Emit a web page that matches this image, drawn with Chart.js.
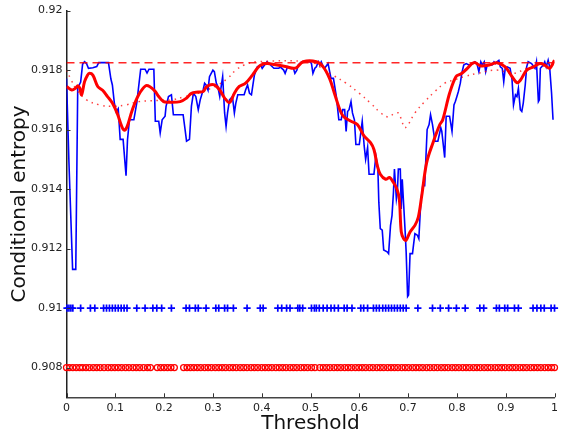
<!DOCTYPE html>
<html lang="en">
<head>
<meta charset="UTF-8">
<title>Conditional entropy vs threshold</title>
<script src="https://cdn.jsdelivr.net/npm/chart.js@4.4.1/dist/chart.umd.min.js"></script>
<style>
  html, body { margin: 0; padding: 0; background: #fff; }
  #wrap { width: 562px; height: 441px; }
</style>
</head>
<body>
<div id="wrap"><canvas id="chart" width="562" height="441"></canvas></div>
<script>
// raw conditional entropy per threshold (blue)
var rawLine = [
  [0.000,0.91772],[0.002,0.9166],[0.005,0.9149],[0.0125,0.9113],[0.019,0.9113],[0.023,0.9174],[0.029,0.9176],[0.033,0.9182],
  [0.037,0.91828],[0.041,0.91822],[0.045,0.91806],[0.054,0.91808],[0.062,0.91812],[0.066,0.91825],[0.086,0.91825],[0.091,0.9177],
  [0.094,0.9175],[0.098,0.9169],[0.102,0.9166],[0.106,0.9167],[0.110,0.91567],[0.116,0.91567],[0.122,0.91445],[0.125,0.91566],
  [0.129,0.91633],[0.138,0.91633],[0.144,0.9169],[0.152,0.91803],[0.161,0.91803],[0.165,0.9179],[0.169,0.91803],[0.179,0.91803],
  [0.182,0.91628],[0.189,0.91628],[0.192,0.91589],[0.196,0.91633],[0.202,0.91645],[0.204,0.91678],[0.209,0.91711],[0.215,0.91717],
  [0.219,0.9165],[0.239,0.9165],[0.243,0.916],[0.246,0.91561],[0.252,0.91567],[0.256,0.91679],[0.260,0.91722],[0.265,0.91711],
  [0.270,0.91667],[0.274,0.917],[0.280,0.91733],[0.283,0.91756],[0.286,0.9175],[0.290,0.91733],[0.293,0.91778],[0.300,0.918],
  [0.303,0.91795],[0.307,0.91756],[0.310,0.91745],[0.314,0.91711],[0.317,0.91745],[0.320,0.91778],[0.324,0.91656],[0.327,0.91611],
  [0.330,0.91656],[0.334,0.917],[0.340,0.91711],[0.344,0.91656],[0.347,0.91689],[0.351,0.91717],[0.364,0.91717],[0.367,0.91733],
  [0.371,0.9175],[0.375,0.91722],[0.379,0.91717],[0.382,0.9175],[0.385,0.91783],[0.391,0.91811],[0.398,0.91817],[0.401,0.91806],
  [0.408,0.91822],[0.411,0.91828],[0.418,0.91817],[0.425,0.91806],[0.435,0.91806],[0.438,0.91811],[0.445,0.918],[0.448,0.91789],
  [0.453,0.91811],[0.458,0.91806],[0.465,0.91806],[0.468,0.91789],[0.472,0.918],[0.475,0.91817],[0.482,0.91828],[0.499,0.91828],
  [0.502,0.91822],[0.505,0.91789],[0.509,0.91806],[0.512,0.91811],[0.516,0.91828],[0.519,0.91817],[0.522,0.91828],[0.526,0.91811],
  [0.529,0.91806],[0.536,0.91822],[0.542,0.91772],[0.547,0.91772],[0.553,0.91711],[0.558,0.91633],[0.563,0.91633],[0.566,0.91667],
  [0.570,0.91667],[0.573,0.91594],[0.576,0.91661],[0.579,0.91667],[0.583,0.91694],[0.586,0.91656],[0.590,0.91633],[0.593,0.9155],
  [0.600,0.9155],[0.603,0.91589],[0.606,0.91628],[0.610,0.91545],[0.613,0.915],[0.617,0.9154],[0.620,0.9145],[0.630,0.9145],
  [0.634,0.91511],[0.638,0.91472],[0.640,0.91356],[0.643,0.91267],[0.647,0.91262],[0.650,0.91195],[0.657,0.91189],[0.660,0.91183],
  [0.664,0.91278],[0.667,0.91311],[0.670,0.91389],[0.672,0.91467],[0.676,0.91367],[0.678,0.91389],[0.680,0.91467],[0.684,0.91467],
  [0.686,0.91333],[0.688,0.91433],[0.691,0.91345],[0.694,0.91256],[0.696,0.91189],[0.699,0.91039],[0.701,0.91044],[0.704,0.91183],
  [0.709,0.91183],[0.711,0.91211],[0.714,0.9125],[0.719,0.91245],[0.722,0.91233],[0.726,0.91356],[0.730,0.91411],[0.734,0.91411],
  [0.739,0.916],[0.743,0.91617],[0.746,0.9165],[0.750,0.91617],[0.755,0.91561],[0.761,0.91561],[0.767,0.91606],[0.769,0.91595],
  [0.775,0.91506],[0.778,0.91645],[0.785,0.91645],[0.790,0.91594],[0.794,0.91683],[0.797,0.91695],[0.800,0.91711],[0.803,0.91728],
  [0.807,0.91756],[0.810,0.91789],[0.814,0.91817],[0.819,0.91822],[0.825,0.91817],[0.833,0.91822],[0.837,0.91828],[0.841,0.91822],
  [0.845,0.91795],[0.849,0.91828],[0.852,0.91817],[0.856,0.91828],[0.859,0.91795],[0.862,0.91817],[0.872,0.91817],[0.876,0.91828],
  [0.879,0.91822],[0.882,0.91828],[0.886,0.91833],[0.889,0.91811],[0.893,0.91806],[0.896,0.91761],[0.899,0.91806],[0.903,0.91811],
  [0.909,0.91806],[0.913,0.91767],[0.916,0.91683],[0.920,0.91717],[0.923,0.91711],[0.926,0.91739],[0.930,0.91667],[0.933,0.91661],
  [0.936,0.91689],[0.940,0.9175],[0.943,0.91811],[0.946,0.91828],[0.953,0.91822],[0.960,0.91806],[0.963,0.91828],[0.967,0.91694],
  [0.969,0.917],[0.971,0.91806],[0.977,0.91817],[0.980,0.91828],[0.983,0.91811],[0.987,0.91833],[0.990,0.91811],[0.994,0.91722],
  [0.997,0.91633]
];

// smoothed curve (thick red)
var smoothLine = [
  [0.000,0.91745],[0.011,0.91733],[0.019,0.9174],[0.023,0.91747],[0.027,0.9174],[0.031,0.91717],[0.037,0.91761],[0.043,0.91783],
  [0.047,0.91789],[0.054,0.91783],[0.064,0.91745],[0.074,0.91732],[0.084,0.91711],[0.094,0.91689],[0.105,0.9165],[0.112,0.91616],
  [0.118,0.91598],[0.124,0.91609],[0.135,0.91667],[0.148,0.91717],[0.162,0.91747],[0.171,0.91744],[0.182,0.91728],[0.189,0.91711],
  [0.199,0.91694],[0.209,0.91692],[0.233,0.91694],[0.246,0.91706],[0.256,0.91722],[0.270,0.91726],[0.280,0.91728],[0.286,0.91742],
  [0.293,0.9175],[0.303,0.9175],[0.314,0.91733],[0.324,0.91706],[0.334,0.91691],[0.344,0.91722],[0.354,0.91745],[0.367,0.91756],
  [0.381,0.91783],[0.391,0.91806],[0.398,0.91817],[0.411,0.91822],[0.431,0.91817],[0.451,0.91811],[0.465,0.91806],[0.472,0.91809],
  [0.485,0.91828],[0.512,0.91828],[0.526,0.91811],[0.539,0.91772],[0.549,0.91722],[0.559,0.91672],[0.567,0.91645],[0.583,0.91628],
  [0.596,0.91617],[0.610,0.91578],[0.623,0.91556],[0.630,0.91533],[0.637,0.91478],[0.643,0.9145],[0.654,0.91433],[0.662,0.91439],
  [0.670,0.91422],[0.677,0.914],[0.682,0.91367],[0.686,0.91256],[0.691,0.91233],[0.696,0.91228],[0.704,0.91256],[0.714,0.91278],
  [0.721,0.91306],[0.728,0.91378],[0.738,0.91489],[0.751,0.91556],[0.765,0.91617],[0.771,0.91633],[0.785,0.91722],[0.798,0.91778],
  [0.808,0.91787],[0.819,0.91802],[0.835,0.91825],[0.849,0.91814],[0.866,0.91817],[0.882,0.91825],[0.899,0.91811],[0.913,0.91778],
  [0.923,0.91758],[0.930,0.91766],[0.943,0.918],[0.957,0.91811],[0.970,0.91822],[0.980,0.91817],[0.990,0.91806],[1.000,0.91833]
];

// dotted red curve
var dottedLine = [
  [0.000,0.918],[0.009,0.91769],[0.021,0.91733],[0.041,0.917],[0.068,0.91683],[0.095,0.91678],[0.122,0.91683],[0.148,0.91694],
  [0.189,0.91698],[0.216,0.917],[0.243,0.91711],[0.270,0.91722],[0.310,0.9175],[0.330,0.91772],[0.347,0.918],[0.364,0.91817],
  [0.391,0.91828],[0.499,0.91828],[0.519,0.91811],[0.546,0.91783],[0.573,0.91756],[0.600,0.91722],[0.623,0.91689],[0.644,0.91656],
  [0.660,0.91642],[0.670,0.91652],[0.680,0.91656],[0.686,0.91635],[0.694,0.91606],[0.714,0.91656],[0.734,0.91694],[0.755,0.91728],
  [0.775,0.91756],[0.795,0.91767],[0.815,0.91778],[0.842,0.91789],[0.882,0.918],[0.916,0.91789],[0.943,0.91806],[0.970,0.91817],
  [0.990,0.91806],[1.000,0.91828]
];

// dashed red reference level
var dashLevel = 0.91825;

// blue "+" markers at 0.91
var plusLevel = 0.91;
var plusThreshold = [
  0.001,0.005,0.009,0.013,0.029,0.049,0.058,0.076,0.082,0.088,0.094,0.100,0.106,0.112,0.118,0.124,0.144,0.161,0.177,0.185,
  0.195,0.215,0.245,0.252,0.264,0.270,0.286,0.306,0.312,0.324,0.330,0.342,0.370,0.397,0.403,0.433,0.441,0.451,0.458,0.474,
  0.478,0.484,0.502,0.508,0.512,0.518,0.526,0.534,0.542,0.549,0.557,0.569,0.575,0.585,0.603,0.609,0.617,0.629,0.635,0.641,
  0.648,0.654,0.660,0.666,0.672,0.678,0.684,0.690,0.696,0.720,0.750,0.766,0.783,0.799,0.817,0.847,0.855,0.881,0.887,0.898,
  0.904,0.918,0.926,0.956,0.964,0.972,0.979,0.993,1.000
];

// red "o" markers at 0.908
var circleLevel = 0.908;
var circleThreshold = [
  0.000,0.006,0.013,0.020,0.027,0.033,0.040,0.047,0.055,0.062,0.069,0.077,0.085,0.092,0.099,0.106,0.113,0.121,0.128,0.136,
  0.143,0.150,0.158,0.166,0.172,0.186,0.193,0.200,0.207,0.214,0.221,0.240,0.247,0.254,0.261,0.268,0.275,0.283,0.290,0.297,
  0.305,0.312,0.319,0.326,0.334,0.341,0.348,0.356,0.363,0.370,0.378,0.385,0.392,0.400,0.407,0.414,0.421,0.429,0.436,0.443,
  0.450,0.458,0.465,0.472,0.480,0.487,0.494,0.502,0.509,0.519,0.526,0.533,0.540,0.548,0.555,0.562,0.570,0.577,0.584,0.592,
  0.599,0.606,0.613,0.621,0.628,0.636,0.643,0.650,0.658,0.665,0.672,0.679,0.687,0.694,0.701,0.709,0.716,0.723,0.730,0.738,
  0.745,0.753,0.760,0.768,0.775,0.782,0.790,0.797,0.804,0.812,0.819,0.826,0.834,0.841,0.848,0.856,0.863,0.870,0.878,0.885,
  0.892,0.899,0.907,0.914,0.921,0.929,0.936,0.943,0.951,0.958,0.965,0.972,0.980,0.987,0.994,1.000
];

var yTickValues = [0.908, 0.91, 0.912, 0.914, 0.916, 0.918, 0.92];
var xTickValues = [0, 0.1, 0.2, 0.3, 0.4, 0.5, 0.6, 0.7, 0.8, 0.9, 1];

function toPts(arr) { return arr.map(function (p) { return {x: p[0], y: p[1]}; }); }

var FONT = 'DejaVu Sans';

// matplotlib-style ticks pointing into the plot
var inwardTicks = {
  id: 'inwardTicks',
  afterDatasetsDraw: function (chart) {
    var ctx = chart.ctx, area = chart.chartArea;
    var xs = chart.scales.x, ys = chart.scales.y;
    ctx.save();
    ctx.strokeStyle = '#333';
    ctx.lineWidth = 1;
    xTickValues.forEach(function (v) {
      var px = Math.round(xs.getPixelForValue(v)) + 0.5;
      ctx.beginPath(); ctx.moveTo(px, area.bottom); ctx.lineTo(px, area.bottom - 4); ctx.stroke();
    });
    yTickValues.forEach(function (v) {
      var py = Math.round(ys.getPixelForValue(v)) + 0.5;
      ctx.beginPath(); ctx.moveTo(area.left, py); ctx.lineTo(area.left + 4, py); ctx.stroke();
    });
    ctx.restore();
  }
};

new Chart(document.getElementById('chart'), {
  type: 'scatter',
  data: {
    datasets: [
      {
        data: toPts(smoothLine), showLine: true, borderColor: '#ff0000', borderWidth: 3,
        tension: 0.35, pointRadius: 0, order: 1
      },
      {
        data: toPts(dottedLine), showLine: true, borderColor: 'rgba(255,0,0,0.75)', borderWidth: 1.5,
        borderDash: [1.5, 4.5], tension: 0.4, pointRadius: 0, order: 2
      },
      {
        data: [{x: 0, y: dashLevel}, {x: 1, y: dashLevel}], showLine: true,
        borderColor: 'rgba(255,0,0,0.85)', borderWidth: 1.5, borderDash: [8, 5], pointRadius: 0, order: 2
      },
      {
        data: toPts(rawLine), showLine: true, borderColor: '#0000ff', borderWidth: 1.6,
        tension: 0, pointRadius: 0, order: 3
      },
      {
        data: plusThreshold.map(function (t) { return {x: t, y: plusLevel}; }),
        pointStyle: 'cross', pointRadius: 3.6, pointBorderColor: '#0000ff', pointBorderWidth: 1.7,
        pointBackgroundColor: '#0000ff', clip: false, order: 4
      },
      {
        data: circleThreshold.map(function (t) { return {x: t, y: circleLevel}; }),
        pointStyle: 'circle', pointRadius: 3, pointBorderColor: '#ff0000', pointBorderWidth: 1.3,
        pointBackgroundColor: 'rgba(0,0,0,0)', clip: false, order: 4
      }
    ]
  },
  options: {
    responsive: false,
    animation: false,
    devicePixelRatio: 1,
    layout: { padding: { top: 6.7, right: 0.5, left: 0, bottom: 0 } },
    plugins: { legend: { display: false }, tooltip: { enabled: false } },
    scales: {
      x: {
        type: 'linear', min: 0, max: 1,
        afterFit: function (s) { s.height = 43.7; },
        afterBuildTicks: function (s) { s.ticks = xTickValues.map(function (v) { return {value: v}; }); },
        grid: { display: false, drawTicks: false },
        border: { display: true, color: '#444', width: 1.5 },
        ticks: {
          padding: 4, color: '#222', font: { family: FONT, size: 11 },
          callback: function (v) { return String(parseFloat(v.toFixed(1))); }
        },
        title: { display: true, text: 'Threshold', color: '#111', font: { family: FONT, size: 20 }, padding: { top: 0, bottom: 5 } }
      },
      y: {
        type: 'linear', min: 0.907, max: 0.92,
        afterFit: function (s) { s.width = 66.5; },
        afterBuildTicks: function (s) { s.ticks = yTickValues.map(function (v) { return {value: v}; }); },
        grid: { display: false, drawTicks: false },
        border: { display: true, color: '#222', width: 1.5 },
        ticks: {
          padding: 4, color: '#222', font: { family: FONT, size: 11 },
          callback: function (v) { return String(parseFloat(v.toFixed(3))); }
        },
        title: { display: true, text: 'Conditional entropy', color: '#111', font: { family: FONT, size: 20 }, padding: { top: 8, bottom: 0 } }
      }
    }
  },
  plugins: [inwardTicks]
});
</script>
</body>
</html>
